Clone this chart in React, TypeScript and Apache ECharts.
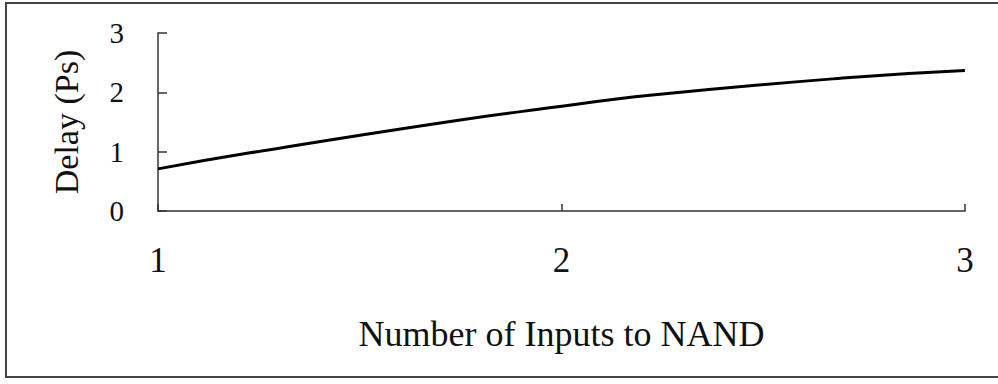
import React, { useEffect, useRef } from "react";
import * as echarts from "echarts";

// Gate delay versus number of NAND inputs
const inputCounts = [1, 1.228, 1.724, 1.996, 2.219, 2.715, 3];
const delayPs = [0.71, 0.98, 1.51, 1.76, 1.95, 2.25, 2.37];
const xTicks = [1, 2, 3];
const yTicks = [0, 1, 2, 3];

const serif = "'Liberation Serif', 'DejaVu Serif', serif";

export default function App() {
  const ref = useRef<HTMLDivElement>(null);

  useEffect(() => {
    if (!ref.current) return;
    const chart = echarts.init(ref.current, null, { renderer: "svg" });
    const points = inputCounts.map((x, i) => [x, delayPs[i]]);
    chart.setOption({
      animation: false,
      backgroundColor: "#ffffff",
      grid: { left: 158, right: 33, top: 33, bottom: 173 },
      xAxis: {
        type: "value",
        min: xTicks[0],
        max: xTicks[xTicks.length - 1],
        interval: 1,
        name: "Number of Inputs to NAND",
        nameLocation: "middle",
        nameGap: 105,
        nameTextStyle: { fontFamily: serif, fontSize: 36, color: "#111" },
        axisLine: { show: true, lineStyle: { color: "#333", width: 1.5 } },
        axisTick: { show: true, inside: true, length: 7, lineStyle: { color: "#333", width: 1.5 } },
        axisLabel: { fontFamily: serif, fontSize: 35, color: "#111", margin: 32 },
        splitLine: { show: false },
      },
      yAxis: {
        type: "value",
        min: yTicks[0],
        max: yTicks[yTicks.length - 1],
        interval: 1,
        name: "Delay (Ps)",
        nameLocation: "middle",
        nameGap: 75,
        nameRotate: 90,
        nameTextStyle: { fontFamily: serif, fontSize: 34, color: "#111" },
        axisLine: { show: true, lineStyle: { color: "#333", width: 1.5 } },
        axisTick: { show: true, inside: true, length: 9, lineStyle: { color: "#333", width: 1.5 } },
        axisLabel: { fontFamily: serif, fontSize: 29, color: "#111", margin: 34 },
        splitLine: { show: false },
      },
      series: [
        {
          type: "line",
          data: points,
          smooth: true,
          showSymbol: false,
          lineStyle: { color: "#000", width: 3 },
        },
      ],
      graphic: [
        {
          type: "rect",
          silent: true,
          z: -1,
          shape: { x: 6, y: 3, width: 1010, height: 374 },
          style: { fill: "none", stroke: "#444", lineWidth: 2 },
        },
      ],
    });
    return () => chart.dispose();
  }, []);

  return (
    <div
      ref={ref}
      style={{ position: "fixed", left: 0, top: 0, width: 998, height: 384 }}
    />
  );
}
